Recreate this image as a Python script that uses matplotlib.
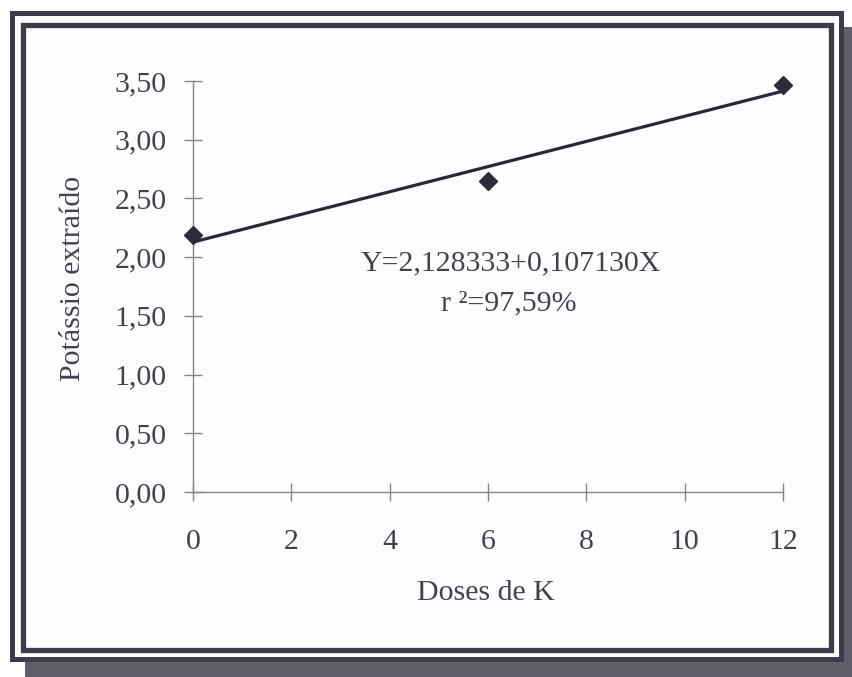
import matplotlib
matplotlib.use("Agg")
import matplotlib.pyplot as plt
from matplotlib.patches import Rectangle
import numpy as np

# Observed data
doses = [0, 6, 12]
potassio = [2.19, 2.65, 3.47]

# Fitted regression
intercept = 2.128333
slope = 0.107130
r2_label = "97,59%"

x_ticks = [0, 2, 4, 6, 8, 10, 12]
y_ticks = [0.0, 0.5, 1.0, 1.5, 2.0, 2.5, 3.0, 3.5]
y_tick_labels = ["0,00", "0,50", "1,00", "1,50", "2,00", "2,50", "3,00", "3,50"]

W, H = 852, 677
DPI = 100
ink = "#44414f"
frame_col = "#3f3a4c"
shadow_col = "#625d6a"
axis_col = "#85838f"

plt.rcParams["font.family"] = ["Liberation Serif", "DejaVu Serif"]

fig = plt.figure(figsize=(W / DPI, H / DPI), dpi=DPI)
fig.patch.set_facecolor("white")


def px_rect(x0, y0, x1, y1, **kw):
    """Rectangle given in pixel coordinates measured from the top-left corner."""
    r = Rectangle((x0 / W, 1 - y1 / H), (x1 - x0) / W, (y1 - y0) / H,
                  transform=fig.transFigure, **kw)
    fig.add_artist(r)


# drop shadow (right and bottom)
px_rect(844, 27, W, H, facecolor=shadow_col, edgecolor="none", zorder=0)
px_rect(25, 660, W, H, facecolor=shadow_col, edgecolor="none", zorder=0)
# outer frame line
px_rect(12, 12.5, 840.5, 659, facecolor="white", edgecolor=frame_col,
        linewidth=3.6, zorder=1)
# inner frame line
px_rect(23, 25, 830.5, 649.5, facecolor="#fdfdfd", edgecolor=frame_col,
        linewidth=3.8, zorder=1)

ax_left, ax_right = 193, 783
ax_top, ax_bottom = 81, 492
ax = fig.add_axes([ax_left / W, 1 - ax_bottom / H,
                   (ax_right - ax_left) / W, (ax_bottom - ax_top) / H])
ax.set_facecolor("none")
ax.set_zorder(3)

ax.set_xlim(0, 12)
ax.set_ylim(0, 3.5)
for side in ("top", "right"):
    ax.spines[side].set_visible(False)
for side in ("left", "bottom"):
    ax.spines[side].set_color(axis_col)
    ax.spines[side].set_linewidth(1.0)

ax.set_xticks(x_ticks)
ax.set_xticklabels([str(v) for v in x_ticks])
ax.set_yticks(y_ticks)
ax.set_yticklabels(y_tick_labels)
ax.tick_params(axis="both", direction="inout", length=13.5, width=1.0,
               color=axis_col, labelsize=21.5, labelcolor=ink)
ax.tick_params(axis="y", pad=12)
ax.tick_params(axis="x", pad=20)

# regression line
xl = np.array([0, 12])
ax.plot(xl, intercept + slope * xl, color="#2c2738", linewidth=2.3,
        solid_capstyle="butt", clip_on=False, zorder=4)
# observed points
ax.plot(doses, potassio, linestyle="none", marker="D", markersize=9.5,
        color="#2e2a3c", clip_on=False, zorder=5)

ax.set_xlabel("Doses de K", fontsize=21.5, color=ink)
ax.xaxis.set_label_coords((486 - ax_left) / (ax_right - ax_left),
                          (ax_bottom - 580) / (ax_bottom - ax_top))
ax.set_ylabel("Potássio extraído", fontsize=21.5, color=ink)
ax.yaxis.set_label_coords((86 - ax_left) / (ax_right - ax_left),
                          (ax_bottom - 278) / (ax_bottom - ax_top))

eq = "Y=2,128333+0,107130X"
ax.text((511 - ax_left) / (ax_right - ax_left),
        (ax_bottom - 263) / (ax_bottom - ax_top), eq,
        transform=ax.transAxes, ha="center", va="center",
        fontsize=21.5, color=ink)
ax.text((509 - ax_left) / (ax_right - ax_left),
        (ax_bottom - 303) / (ax_bottom - ax_top),
        "r \u00b2=" + r2_label,
        transform=ax.transAxes, ha="center", va="center",
        fontsize=21.5, color=ink)

fig.savefig("out.png", dpi=DPI, facecolor=fig.get_facecolor())
